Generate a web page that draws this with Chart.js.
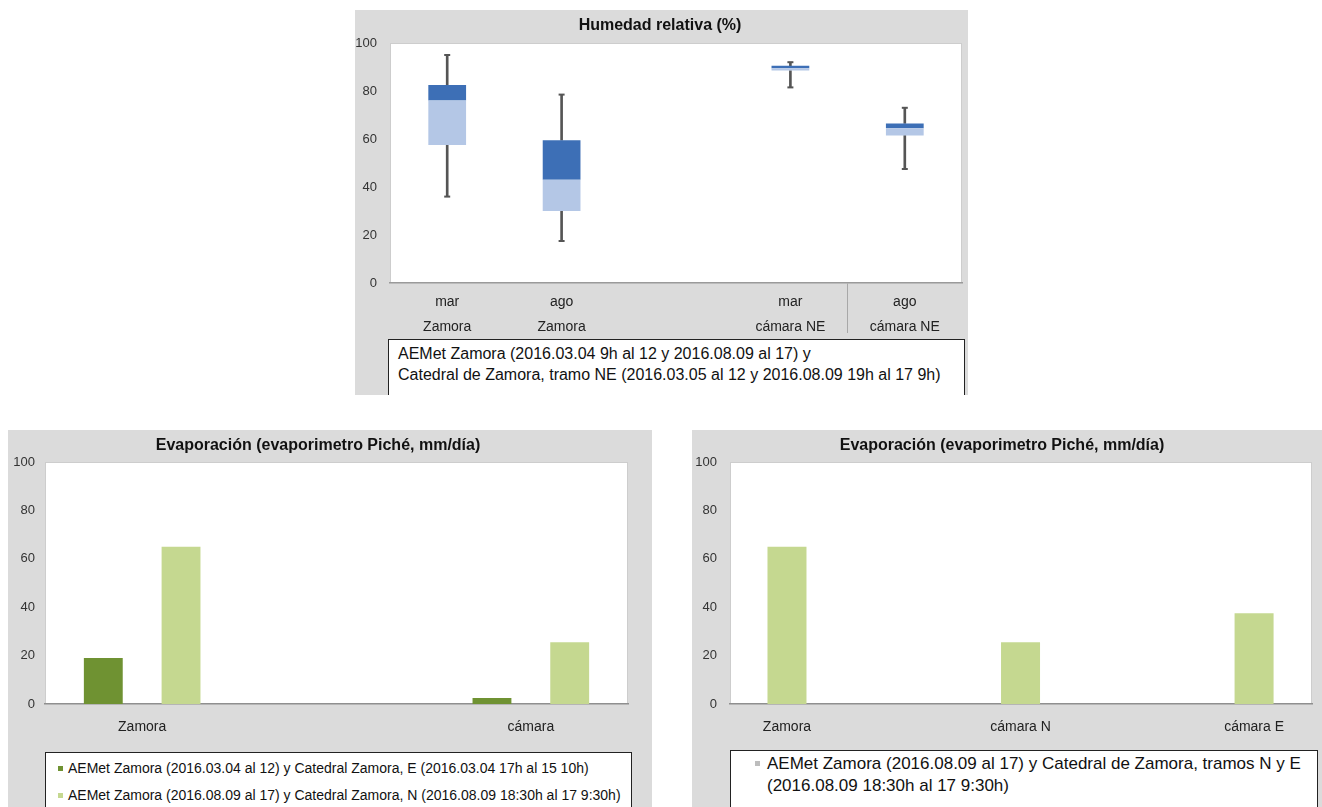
<!DOCTYPE html>
<html>
<head>
<meta charset="utf-8">
<script src="https://cdn.jsdelivr.net/npm/chart.js@4.4.1/dist/chart.umd.min.js"></script>
<style>
  body { margin: 0; width: 1322px; height: 807px; position: relative; overflow: hidden; background: #fff; }
  .panel { position: absolute; background: #dbdbdb; }
  .panel canvas { position: absolute; left: 0; top: 0; }
  .leg { position: absolute; background: #fff; border: 1px solid #222; border-bottom: none; box-sizing: border-box;
         font-family: 'Liberation Sans', Arial, sans-serif; color: #111; white-space: nowrap; }
  .mk { display: inline-block; vertical-align: middle; margin-right: 5px; position: relative; top: -1px; }
</style>
</head>
<body>

<div class="panel" style="left:355px; top:10px; width:613px; height:385px">
  <canvas id="rhChart" width="613" height="385"></canvas>
  <div class="leg" style="left:33px; top:329px; width:577px; height:56px; font-size:16px; line-height:21px; padding:3px 0 0 9px">
    AEMet Zamora (2016.03.04 9h al 12 y 2016.08.09 al 17) y<br>
    Catedral de Zamora, tramo NE (2016.03.05 al 12 y 2016.08.09 19h al 17 9h)
  </div>
</div>

<div class="panel" style="left:8px; top:430px; width:644px; height:377px">
  <canvas id="evapChart" width="644" height="377"></canvas>
  <div class="leg" id="evapLegend" style="left:37px; top:322px; width:587px; height:55px; font-size:14px; padding:2px 0 0 12px"></div>
</div>

<div class="panel" style="left:692px; top:430px; width:630px; height:377px">
  <canvas id="evap2Chart" width="630" height="377"></canvas>
  <div class="leg" id="evap2Legend" style="left:38px; top:320px; width:588px; height:57px; font-size:17px; line-height:22px; padding:2px 0 0 31px"></div>
</div>

<script>
// Humedad relativa (%) - box plot values
const rhLabels = [['mar', 'Zamora'], ['ago', 'Zamora'], '', ['mar', 'cámara NE'], ['ago', 'cámara NE']];
const rhMin = [36, 17.5, null, 81.5, 47.5];
const rhQ1 = [57.5, 30, null, 88.5, 61.5];
const rhMedian = [76, 43, null, 89.5, 64.5];
const rhQ3 = [82.5, 59.5, null, 90.5, 66.5];
const rhMax = [95, 78.5, null, 92, 73];

// Evaporación, left chart
const evapLabels = ['Zamora', '', 'cámara'];
const evapMarch = [19, null, 2.5];
const evapAugust = [65, null, 25.5];
const evapLegendTexts = [
  'AEMet Zamora (2016.03.04 al 12) y Catedral Zamora, E (2016.03.04 17h al 15 10h)',
  'AEMet Zamora (2016.08.09 al 17) y Catedral Zamora, N (2016.08.09 18:30h al 17 9:30h)',
];

// Evaporación, right chart
const evap2Labels = ['Zamora', 'cámara N', 'cámara E'];
const evap2Pos = [0, 1, 2];
const evap2Values = [65, 25.5, 37.5];
const evap2LegendText = ['AEMet Zamora (2016.08.09 al 17) y Catedral de Zamora, tramos N y E', '(2016.08.09 18:30h al 17 9:30h)'];

const DARK_GREEN = '#6f9232';
const LIGHT_GREEN = '#c5d890';

Chart.defaults.font.family = "'Liberation Sans', Arial, sans-serif";
Chart.defaults.animation = false;

const span = (a, b) => a.map((v, i) => (v == null ? null : [v, b[i]]));

const plotBg = {
  id: 'plotBg',
  beforeDraw(chart) {
    const { ctx, chartArea: a } = chart;
    ctx.save();
    ctx.fillStyle = '#fff';
    ctx.fillRect(a.left, a.top, a.width, a.height);
    ctx.strokeStyle = '#cdcdcd';
    ctx.lineWidth = 1;
    ctx.strokeRect(a.left + 0.5, a.top + 0.5, a.width - 1, a.height - 1);
    ctx.restore();
  },
};

function yAxis(width, pad) {
  return {
    min: 0, max: 100,
    ticks: { stepSize: 20, padding: pad, color: '#333', font: { size: 13 } },
    grid: { display: false, drawTicks: false },
    border: { display: false },
    afterFit: (s) => { s.width = width; },
  };
}

function title(text, bottom) {
  return {
    display: true, text, color: '#111',
    font: { size: 16, weight: 'bold' },
    padding: { top: 6, bottom },
  };
}

// top: box plot from floating bars + whisker bars + cap points
new Chart(document.getElementById('rhChart'), {
  type: 'bar',
  data: {
    labels: rhLabels,
    datasets: [
      { data: span(rhQ1, rhMedian), backgroundColor: '#b4c7e6', grouped: false, categoryPercentage: 1, barPercentage: 0.33 },
      { data: span(rhMedian, rhQ3), backgroundColor: '#3d6fb6', grouped: false, categoryPercentage: 1, barPercentage: 0.33 },
      { type: 'line', data: rhMin, showLine: false, pointStyle: 'line', pointRadius: 3, pointBorderWidth: 2, pointBorderColor: '#555' },
      { type: 'line', data: rhMax, showLine: false, pointStyle: 'line', pointRadius: 3, pointBorderWidth: 2, pointBorderColor: '#555' },
      { data: span(rhMin, rhQ1), backgroundColor: '#555', grouped: false, barThickness: 2 },
      { data: span(rhQ3, rhMax), backgroundColor: '#555', grouped: false, barThickness: 2 },
    ],
  },
  options: {
    responsive: false,
    layout: { padding: { top: 0, right: 3, bottom: 57, left: 0 } },
    plugins: { legend: { display: false }, tooltip: { enabled: false }, title: title('Humedad relativa (%)', 7.8) },
    scales: {
      x: {
        grid: {
          drawOnChartArea: false, drawTicks: true, tickLength: 50, lineWidth: 1,
          color: (c) => (c.index === 4 ? '#a8a8a8' : 'rgba(0,0,0,0)'),
        },
        border: { display: true, color: '#9a9a9a', width: 1.5 },
        ticks: { padding: -43, color: '#222', font: { size: 14, lineHeight: 1.79 }, maxRotation: 0, autoSkip: false },
        afterFit: (s) => { s.height = 55; },
      },
      y: yAxis(35, 13),
    },
  },
  plugins: [plotBg],
});

// bottom left
new Chart(document.getElementById('evapChart'), {
  type: 'bar',
  data: {
    labels: evapLabels,
    datasets: [
      { data: evapMarch, backgroundColor: DARK_GREEN, categoryPercentage: 0.8, barPercentage: 0.5 },
      { data: evapAugust, backgroundColor: LIGHT_GREEN, categoryPercentage: 0.8, barPercentage: 0.5 },
    ],
  },
  options: {
    responsive: false,
    layout: { padding: { top: 0, right: 24, bottom: 68, left: 0 } },
    plugins: { legend: { display: false }, tooltip: { enabled: false }, title: title('Evaporación (evaporimetro Piché, mm/día)', 6.8) },
    scales: {
      x: {
        grid: { display: false, drawTicks: false },
        border: { display: true, color: '#8f8f8f', width: 1.5 },
        ticks: { padding: 15, color: '#222', font: { size: 14 }, maxRotation: 0 },
        afterFit: (s) => { s.height = 35; },
      },
      y: yAxis(37, 10),
    },
  },
  plugins: [plotBg],
});

// bottom right: linear index axis so the end bars sit where the reference puts them
new Chart(document.getElementById('evap2Chart'), {
  type: 'bar',
  data: {
    datasets: [
      { data: evap2Pos.map((x, i) => ({ x, y: evap2Values[i] })), backgroundColor: LIGHT_GREEN, categoryPercentage: 1, barPercentage: 0.167 },
    ],
  },
  options: {
    responsive: false,
    layout: { padding: { top: 0, right: 10, bottom: 68, left: 0 } },
    plugins: { legend: { display: false }, tooltip: { enabled: false }, title: title('Evaporación (evaporimetro Piché, mm/día)', 6.8) },
    scales: {
      x: {
        type: 'linear', offset: false, min: -0.244, max: 2.248,
        grid: { display: false, drawTicks: false, offset: false },
        border: { display: true, color: '#8f8f8f', width: 1.5 },
        ticks: {
          stepSize: 1, includeBounds: false, padding: 15, color: '#222', font: { size: 14 }, maxRotation: 0, autoSkip: false,
          callback: (v) => evap2Labels[v] ?? '',
        },
        afterFit: (s) => { s.height = 35; },
      },
      y: yAxis(38, 13),
    },
  },
  plugins: [plotBg],
});

// legends (html, boxed like the original)
document.getElementById('evapLegend').innerHTML = evapLegendTexts.map((t, i) =>
  `<div style="height:27px; line-height:27px"><span class="mk" style="width:5px; height:5px; background:${i ? LIGHT_GREEN : DARK_GREEN}"></span>${t}</div>`
).join('');
document.getElementById('evap2Legend').innerHTML =
  `<span class="mk" style="position:absolute; left:24px; top:10px; width:5px; height:5px; background:#bdbdbd"></span>` +
  `<div style="padding-left:5px">${evap2LegendText.join('<br>')}</div>`;
</script>
</body>
</html>
